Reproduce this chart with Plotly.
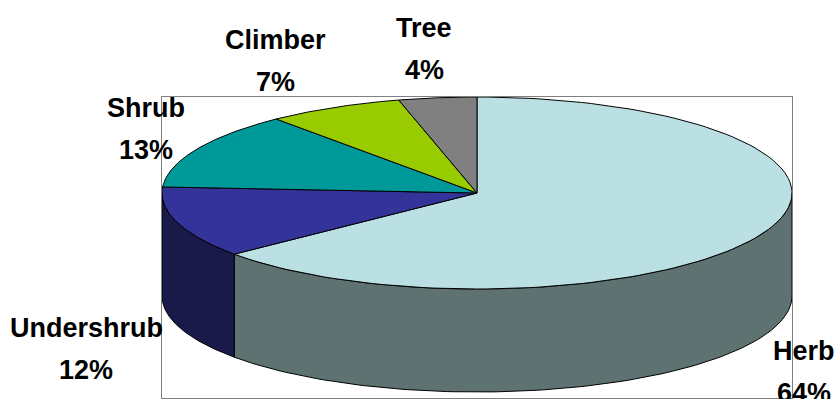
import numpy as np
import plotly.graph_objects as go

# Growth-form composition (%)
categories = ["Herb", "Undershrub", "Shrub", "Climber", "Tree"]
shares = [64, 12, 13, 7, 4]

top_colors = ["#BBE0E3", "#333399", "#009999", "#99CC00", "#808080"]
side_colors = ["#5E7272", "#1A1A4A", "#004D4D", "#4D6600", "#404040"]

# Canvas / plot-area geometry (pixels)
W, H = 838, 399
PLOT_L, PLOT_R, PLOT_T, PLOT_B = 162, 792, 97, 398
RX = (PLOT_R - PLOT_L) / 2          # pixels per data unit
TILT = 96 / RX                      # vertical squash of the pie disc
DEPTH = 103 / RX                    # thickness of the disc

# Label placement (canvas pixels: centre x, centre y of name line)
label_pos = {
    "Herb": (804, 351),
    "Undershrub": (86, 328),
    "Shrub": (146, 108),
    "Climber": (275, 40),
    "Tree": (424, 28),
}
LINE_GAP = 42


def arc(t0, t1, n=120):
    t = np.radians(np.linspace(t0, t1, n))
    return np.cos(t), TILT * np.sin(t)


fig = go.Figure()

# slice angle spans, clockwise from 12 o'clock
spans = []
cum = 0.0
for v in shares:
    a0 = 90 - 360 * cum / 100
    a1 = 90 - 360 * (cum + v) / 100
    spans.append((a1, a0))
    cum += v

# front side walls (visible for angles in the lower half of the disc)
for (lo, hi), col in zip(spans, side_colors):
    for k in (0, -360):
        s = max(lo, -180 + k)
        e = min(hi, 0 + k)
        if e - s <= 0:
            continue
        xs, ys = arc(s, e)
        px = np.concatenate([xs, xs[::-1], xs[:1]])
        py = np.concatenate([ys, ys[::-1] - DEPTH, ys[:1]])
        fig.add_trace(go.Scatter(
            x=px, y=py, mode="lines", fill="toself", fillcolor=col,
            line=dict(color="black", width=1), hoverinfo="skip",
            showlegend=False))

# top faces
for (lo, hi), col, name, v in zip(spans, top_colors, categories, shares):
    xs, ys = arc(hi, lo)
    px = np.concatenate([[0], xs, [0]])
    py = np.concatenate([[0], ys, [0]])
    fig.add_trace(go.Scatter(
        x=px, y=py, mode="lines", fill="toself", fillcolor=col,
        line=dict(color="black", width=1), name=name,
        hovertemplate=f"{name}: {v}%<extra></extra>", showlegend=False))

FONT = dict(family="Liberation Sans, Arial, sans-serif",
            size=27, color="black", weight="bold")


def to_paper(px, py):
    return (px - PLOT_L) / (PLOT_R - PLOT_L), (PLOT_B - py) / (PLOT_B - PLOT_T)


for name, v in zip(categories, shares):
    cx, cy = label_pos[name]
    for txt, yy in ((name, cy), (f"{v}%", cy + LINE_GAP)):
        ax, ay = to_paper(cx, yy)
        fig.add_annotation(x=ax, y=ay, xref="paper", yref="paper", text=txt,
                           showarrow=False, xanchor="center", yanchor="middle",
                           font=FONT)

yr_top = TILT
yr_bot = TILT - (PLOT_B - PLOT_T) / RX

axis_common = dict(showgrid=False, zeroline=False, showticklabels=False,
                   ticks="", showline=True, mirror=True,
                   linecolor="#808080", linewidth=1, fixedrange=True)

fig.update_layout(
    width=W, height=H,
    margin=dict(l=PLOT_L, r=W - PLOT_R, t=PLOT_T, b=H - PLOT_B, pad=0),
    paper_bgcolor="white", plot_bgcolor="white",
    xaxis=dict(range=[-1, 1], **axis_common),
    yaxis=dict(range=[yr_bot, yr_top], **axis_common),
)

fig.write_html("out.html")
